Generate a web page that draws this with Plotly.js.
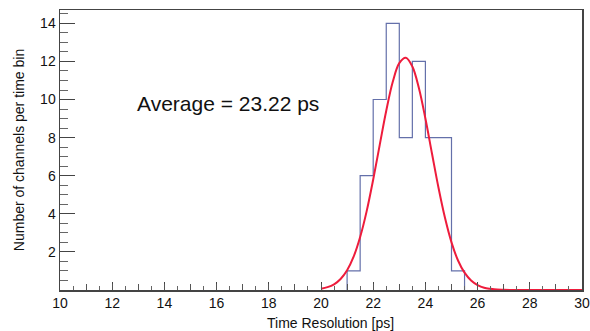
<!DOCTYPE html>
<html><head><meta charset="utf-8">
<script src="https://cdn.plot.ly/plotly-3.0.1.min.js"></script>
<style>html,body{margin:0;padding:0;background:#fff}#c{width:590px;height:331px}</style>
</head><body><div id="c"></div>
<script>
// Histogram: bin lower edges (width 0.5 ps) and counts
var binEdges = [21, 21.5, 22, 22.5, 23, 23.5, 24, 24.5, 25, 25.5];
var binCounts = [1, 6, 10, 14, 8, 12, 8, 8, 1];
// Gaussian fit curve
var fitX = [20, 20.25, 20.5, 20.75, 21, 21.25, 21.5, 21.75, 22, 22.25, 22.5, 22.75, 23, 23.25, 23.5, 23.75, 24, 24.25, 24.5, 24.75, 25, 25.25, 25.5, 25.75, 26, 26.25, 26.5, 26.75, 27, 27.5, 28, 29, 30];
var fitY = [0.07, 0.15, 0.30, 0.58, 1.04, 1.75, 2.78, 4.14, 5.80, 7.62, 9.41, 10.93, 11.91, 12.19, 11.73, 10.60, 9.00, 7.18, 5.38, 3.79, 2.50, 1.55, 0.91, 0.50, 0.26, 0.12, 0.06, 0.02, 0.01, 0, 0, 0, 0];
var xTickVals = [10, 12, 14, 16, 18, 20, 22, 24, 26, 28, 30];
var yTickVals = [2, 4, 6, 8, 10, 12, 14];
var annotationText = "Average = 23.22 ps";
var xTitle = "Time Resolution [ps]";
var yTitle = "Number of channels per time bin";

// step outline built from bins
var hx = [binEdges[0]], hy = [0];
for (var i = 0; i < binCounts.length; i++) { hx.push(binEdges[i + 1]); hy.push(binCounts[i]); }
hx.push(binEdges[binEdges.length - 1]); hy.push(0);

var font = "Liberation Sans, Arial, sans-serif";
var traces = [
  {x: hx, y: hy, type: 'scatter', mode: 'lines', line: {shape: 'vh', color: '#6470aa', width: 1.2}, hoverinfo: 'skip'},
  {x: fitX, y: fitY, type: 'scatter', mode: 'lines', line: {shape: 'spline', color: '#ee1c3c', width: 2}, hoverinfo: 'skip'},
  {x: [10], y: [0], xaxis: 'x2', yaxis: 'y', type: 'scatter', mode: 'markers', marker: {opacity: 0}, hoverinfo: 'skip'}
];
var layout = {
  width: 590, height: 331,
  margin: {l: 60, r: 8, t: 10, b: 41},
  paper_bgcolor: '#fff', plot_bgcolor: '#fff',
  showlegend: false,
  font: {family: font, color: '#111', size: 13},
  xaxis: {
    range: [10, 30], tickvals: xTickVals, ticks: 'inside', ticklen: 8, tickcolor: '#444', tickwidth: 1,
    showgrid: false, zeroline: false, showline: true, linecolor: '#444', linewidth: 1.5, mirror: true,
    minor: {dtick: 0.5, ticks: 'inside', ticklen: 4, tickcolor: '#666', showgrid: false},
    tickfont: {size: 14, family: font}, ticklabeloverflow: 'allow'
  },
  xaxis2: {
    range: [10, 30], overlaying: 'x', dtick: 1, tick0: 11, ticks: 'inside', ticklen: 6, tickcolor: '#555',
    showticklabels: false, showgrid: false, zeroline: false, showline: false
  },
  yaxis: {
    range: [0, 14.7], tickvals: yTickVals, ticks: 'inside', ticklen: 15, tickcolor: '#444', tickwidth: 1,
    showgrid: false, zeroline: false, showline: true, linecolor: '#444', linewidth: 1.5, mirror: true,
    minor: {dtick: 0.5, ticks: 'inside', ticklen: 7.5, tickcolor: '#666', showgrid: false},
    tickfont: {size: 14, family: font},
    title: {text: yTitle, font: {size: 14, family: font}, standoff: 12}
  },
  annotations: [
    {x: 16.45, y: 9.78, xref: 'x', yref: 'y', text: annotationText, showarrow: false,
     font: {size: 21, family: font, color: '#111'}},
    {x: 20.35, y: 0, xref: 'x', yref: 'paper', yanchor: 'middle', yshift: -33, text: xTitle, showarrow: false,
     font: {size: 14, family: font, color: '#111'}}
  ]
};
Plotly.newPlot('c', traces, layout, {staticPlot: true, displayModeBar: false});
</script></body></html>
